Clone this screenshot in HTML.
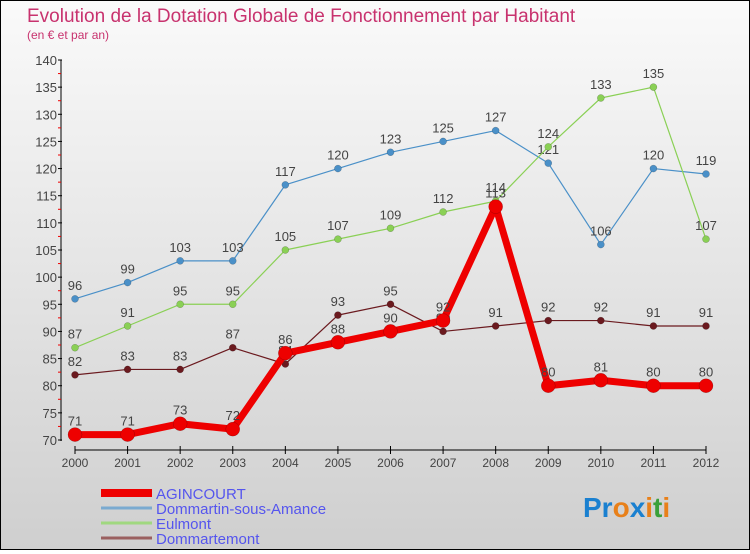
<!DOCTYPE html>
<html><head><meta charset="utf-8"><style>
body{margin:0;width:750px;height:550px;overflow:hidden;font-family:"Liberation Sans",sans-serif}
#wrap{position:relative;width:748px;height:548px;border:1px solid #000;background:linear-gradient(#fafafa,#cfcfcf)}
</style></head><body>
<div id="wrap">
<svg id="chart" width="748" height="548"></svg>
</div>
<script>
const years=["2000","2001","2002","2003","2004","2005","2006","2007","2008","2009","2010","2011","2012"];
const agincourt=[71,71,73,72,86,88,90,92,113,80,81,80,80];
const dommartin=[96,99,103,103,117,120,123,125,127,121,106,120,119];
const eulmont=[87,91,95,95,105,107,109,112,114,124,133,135,107];
const dommartemont=[82,83,83,87,84,93,95,90,91,92,92,91,91];
const yTicks=[70,75,80,85,90,95,100,105,110,115,120,125,130,135,140];
const NS="http://www.w3.org/2000/svg";
const svg=document.getElementById('chart');
const X=i=>74+i*(705-74)/12;
const Y=v=>439-(v-70)*(380/70);
function mk(t,a,p){const e=document.createElementNS(NS,t);for(const k in a)e.setAttribute(k,a[k]);(p||svg).appendChild(e);return e;}
let t=mk('text',{x:26,y:21,fill:'#c8326e','font-size':19});t.textContent='Evolution de la Dotation Globale de Fonctionnement par Habitant';


t=mk('text',{x:26,y:38,fill:'#c8326e','font-size':12});t.textContent='(en € et par an)';


// axes
let a=mk('line',{x1:60,y1:59,x2:60,y2:440,stroke:'#000'});


a=mk('line',{x1:74,y1:449,x2:705,y2:449,stroke:'#000'});


yTicks.forEach((v,i)=>{
 mk('line',{x1:57,y1:Y(v),x2:61,y2:Y(v),stroke:'#000'});
 if(i<yTicks.length-1)mk('line',{x1:57,y1:Y(v+2.5),x2:60,y2:Y(v+2.5),stroke:'#e00'});
 const l=mk('text',{x:56,y:Y(v)+5,'text-anchor':'end','font-size':13,fill:'#444'});l.textContent=v;
 
 
});
years.forEach((y,i)=>{
 mk('line',{x1:X(i),y1:445,x2:X(i),y2:453,stroke:'#000'});
 const l=mk('text',{x:X(i),y:466,'text-anchor':'middle','font-size':12,fill:'#444'});l.textContent=y;
 
 
});
function series(d,color,w,r,name){
 const g=mk('g',{});
 
 
 mk('polyline',{points:d.map((v,i)=>X(i)+','+Y(v)).join(' '),fill:'none',stroke:color,'stroke-width':w,'stroke-linejoin':'round'},g);
 d.forEach((v,i)=>{
  const c=mk('circle',{cx:X(i),cy:Y(v),r:r,fill:color,stroke:'rgba(0,0,0,0.3)','stroke-width':0.5},g);
  
  
  const l=mk('text',{x:X(i),y:Y(v)-9,'text-anchor':'middle','font-size':13,fill:'#444'},g);l.textContent=v;
  
  
 });
}
series(dommartin,'#4a90c8',1.2,3.5,'series-dommartin');
series(eulmont,'#8ad055',1.2,3.5,'series-eulmont');
series(dommartemont,'#6b1a1f',1.2,3.5,'series-dommartemont');
series(agincourt,'#ee0000',7,7,'series-agincourt');
// legend
const leg=[["AGINCOURT","#ee0000",8],["Dommartin-sous-Amance","#7aaad0",3],["Eulmont","#a0d880",3],["Dommartemont","#9a6060",3]];
leg.forEach((e,i)=>{
 const y=492+i*15;
 const g=mk('g',{});
 
 
 mk('line',{x1:100,y1:y,x2:151,y2:y,stroke:e[1],'stroke-width':e[2]},g);
 const l=mk('text',{x:155,y:y+6,'font-size':15,fill:'#5555ee'},g);l.textContent=e[0];
});
const p=mk('text',{x:582,y:516,'font-size':28,'font-weight':'bold'});


[["Pr","#1a80d0"],["o","#e8801a"],["x","#1a80d0"],["i","#e8801a"],["t","#3aa03a"],["i","#e8801a"]].forEach(s=>{const ts=mk('tspan',{fill:s[1]},p);ts.textContent=s[0];});
</script>
</body></html>
